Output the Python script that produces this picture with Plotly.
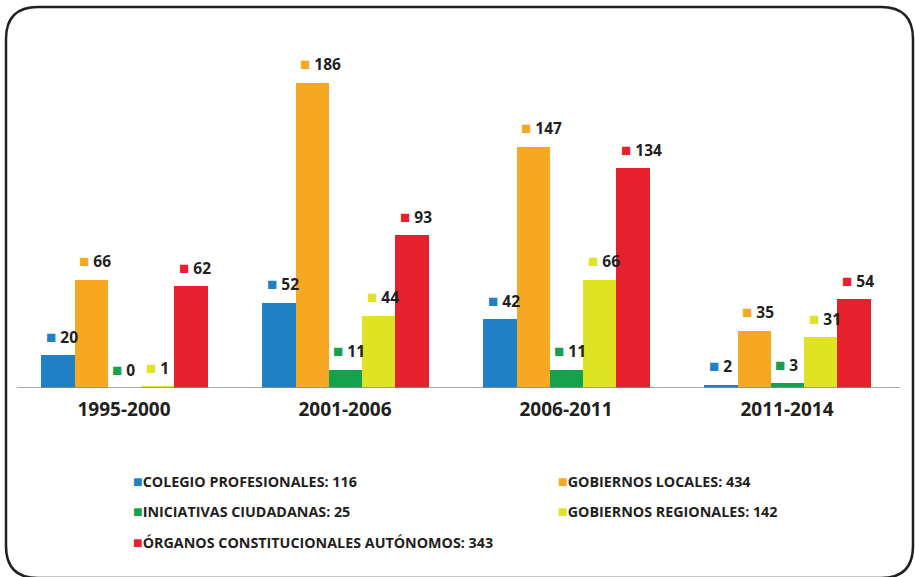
import plotly.graph_objects as go

# Proyectos presentados por periodo y por tipo de iniciativa
periods = ["1995-2000", "2001-2006", "2006-2011", "2011-2014"]
colegio = [20, 52, 42, 2]
locales = [66, 186, 147, 35]
iniciativas = [0, 11, 11, 3]
regionales = [1, 44, 66, 31]
organos = [62, 93, 134, 54]

series_names = [
    "COLEGIO PROFESIONALES",
    "GOBIERNOS LOCALES",
    "INICIATIVAS CIUDADANAS",
    "GOBIERNOS REGIONALES",
    "ÓRGANOS CONSTITUCIONALES AUTÓNOMOS",
]
series_values = [colegio, locales, iniciativas, regionales, organos]
colors = ["#2080c6", "#f6a823", "#14a24e", "#dfe324", "#e6212d"]

W, H = 915, 577
FONT = "Open Sans"
INK = "#231f20"
BAR_W = 0.1505

fig = go.Figure()

annotations = []
for i, (name, vals, col) in enumerate(zip(series_names, series_values, colors)):
    xs = [g + (i - 2) * BAR_W for g in range(len(periods))]
    fig.add_trace(go.Bar(
        x=xs, y=vals, width=BAR_W, name=name,
        marker=dict(color=col, line=dict(width=0)),
        showlegend=False, hoverinfo="y",
    ))
    for x, v in zip(xs, vals):
        annotations.append(dict(
            x=x - BAR_W / 2, y=v, xref="x", yref="y",
            xanchor="left", yanchor="middle", xshift=3, yshift=19,
            showarrow=False,
            text=f'<span style="color:{col};font-size:17px">■</span> {v}',
            font=dict(family=FONT, size=15.5, color=INK, weight="bold"),
        ))

# Leyenda con totales por tipo
legend_pos = [(131, 481), (556, 481), (131, 511), (556, 511), (131, 542)]
for (px, py), name, vals, col in zip(legend_pos, series_names, series_values, colors):
    annotations.append(dict(
        x=px / W, y=1 - py / H, xref="paper", yref="paper",
        xanchor="left", yanchor="middle", showarrow=False,
        text=f'<span style="color:{col};font-size:16px">■</span>{name}: {sum(vals)}',
        font=dict(family=FONT, size=14.3, color=INK, weight="bold"),
    ))

# Marco redondeado
x0, x1, y0, y1, r = 6 / W, 913 / W, 1 - 7 / H, 1 - 578 / H, 32
rx, ry = r / W, r / H
frame = (
    f"M {x0 + rx},{y0} L {x1 - rx},{y0} Q {x1},{y0} {x1},{y0 - ry} "
    f"L {x1},{y1 + ry} Q {x1},{y1} {x1 - rx},{y1} "
    f"L {x0 + rx},{y1} Q {x0},{y1} {x0},{y1 + ry} "
    f"L {x0},{y0 - ry} Q {x0},{y0} {x0 + rx},{y0} Z"
)

fig.update_layout(
    width=W, height=H,
    margin=dict(l=0, r=0, t=0, b=0),
    paper_bgcolor="white", plot_bgcolor="white",
    bargap=0, bargroupgap=0,
    xaxis=dict(
        domain=[13.5 / W, 897.5 / W], range=[-0.5, 3.5],
        tickvals=list(range(len(periods))), ticktext=periods,
        tickfont=dict(family=FONT, size=19, color=INK, weight="bold"),
        ticks="", ticklabelstandoff=8,
        showgrid=False, zeroline=False, showline=False,
    ),
    yaxis=dict(
        domain=[1 - 388 / H, 1 - 60 / H], range=[0, 200],
        showticklabels=False, showgrid=False, zeroline=False, showline=False,
    ),
    shapes=[
        dict(type="line", xref="paper", yref="y", x0=17 / W, x1=900 / W, y0=0, y1=0,
             line=dict(color="#8c8c8c", width=1.5), layer="above"),
        dict(type="path", xref="paper", yref="paper", path=frame,
             line=dict(color="#231f20", width=2.5)),
    ],
    annotations=annotations,
)

fig.write_html("out.html")
